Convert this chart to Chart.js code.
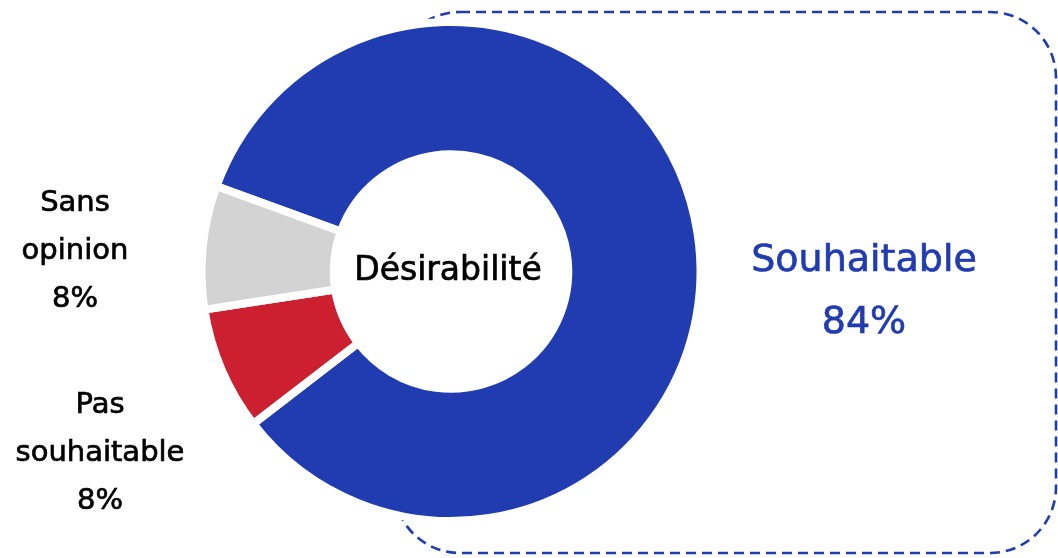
<!DOCTYPE html>
<html lang="fr">
<head>
    <meta charset="UTF-8">
    <title>Désirabilité</title>
    <script src="https://cdn.jsdelivr.net/npm/chart.js"></script>
    <style>
        html, body { margin: 0; padding: 0; background: #fff; }
        .chart-container { position: relative; width: 1058px; height: 558px; }
    </style>
</head>
<body>
    <div class="chart-container">
        <canvas id="desirChart"></canvas>
    </div>

    <script>
        // data
        const categories = ['Souhaitable', 'Pas souhaitable', 'Sans opinion'];
        const shares = [84, 8, 8];
        const centerTitle = 'Désirabilité';

        const colors = ['#213bb1', '#cc1f2f', '#d3d3d3'];
        const textColors = ['#213bb1', '#000', '#000'];
        const FONT = '"DejaVu Sans", sans-serif';

        // where each label block sits (center x, first line y, line height, font size)
        const labelSpots = [
            { x: 864, y: 258, lh: 62, size: 38, lines: ['Souhaitable'] },
            { x: 100, y: 402, lh: 48, size: 29, lines: ['Pas', 'souhaitable'] },
            { x: 75,  y: 200, lh: 48, size: 29, lines: ['Sans', 'opinion'] }
        ];

        function heavyText(ctx, t, x, y, color) {
            ctx.fillStyle = color;
            ctx.strokeStyle = color;
            ctx.lineWidth = 0.7;
            ctx.fillText(t, x, y);
            ctx.strokeText(t, x, y);
        }

        const frameBox = {
            id: 'frameBox',
            beforeDatasetsDraw(chart) {
                const ctx = chart.ctx;
                ctx.save();
                ctx.strokeStyle = '#213bb1';
                ctx.lineWidth = 2.6;
                ctx.setLineDash([10, 6]);
                ctx.beginPath();
                ctx.roundRect(394, 12, 662, 541, 66);
                ctx.stroke();
                ctx.restore();
            },
            afterDatasetsDraw(chart) {
                // keep the hole white so the frame does not show through
                const arc = chart.getDatasetMeta(0).data[0];
                const ctx = chart.ctx;
                ctx.save();
                ctx.fillStyle = '#fff';
                ctx.beginPath();
                ctx.arc(arc.x, arc.y, arc.innerRadius + 1, 0, Math.PI * 2);
                ctx.fill();
                ctx.restore();
            }
        };

        const labelsPlugin = {
            id: 'labelsPlugin',
            afterDraw(chart) {
                const ctx = chart.ctx;
                const meta = chart.getDatasetMeta(0);
                ctx.save();
                ctx.textAlign = 'center';
                ctx.textBaseline = 'middle';

                // center text
                const c = meta.data[0];
                ctx.font = '33px ' + FONT;
                heavyText(ctx, centerTitle, c.x - 3, c.y, '#000');

                labelSpots.forEach((s, i) => {
                    ctx.font = s.size + 'px ' + FONT;
                    const lines = s.lines.concat([shares[i] + '%']);
                    lines.forEach((t, k) => heavyText(ctx, t, s.x, s.y + 3 + k * s.lh, textColors[i]));
                });
                ctx.restore();
            }
        };

        const ctx = document.getElementById('desirChart').getContext('2d');
        const desirChart = new Chart(ctx, {
            type: 'doughnut',
            data: {
                labels: categories,
                datasets: [{
                    data: shares,
                    backgroundColor: colors,
                    borderColor: '#fff',
                    borderWidth: 8,
                    hoverOffset: 0
                }]
            },
            options: {
                responsive: true,
                maintainAspectRatio: false,
                animation: false,
                rotation: -70,
                cutout: '47%',
                layout: { padding: { left: 0, right: 156, top: 18, bottom: 33 } },
                plugins: {
                    legend: { display: false },
                    tooltip: { enabled: false }
                }
            },
            plugins: [frameBox, labelsPlugin]
        });
    </script>
</body>
</html>
